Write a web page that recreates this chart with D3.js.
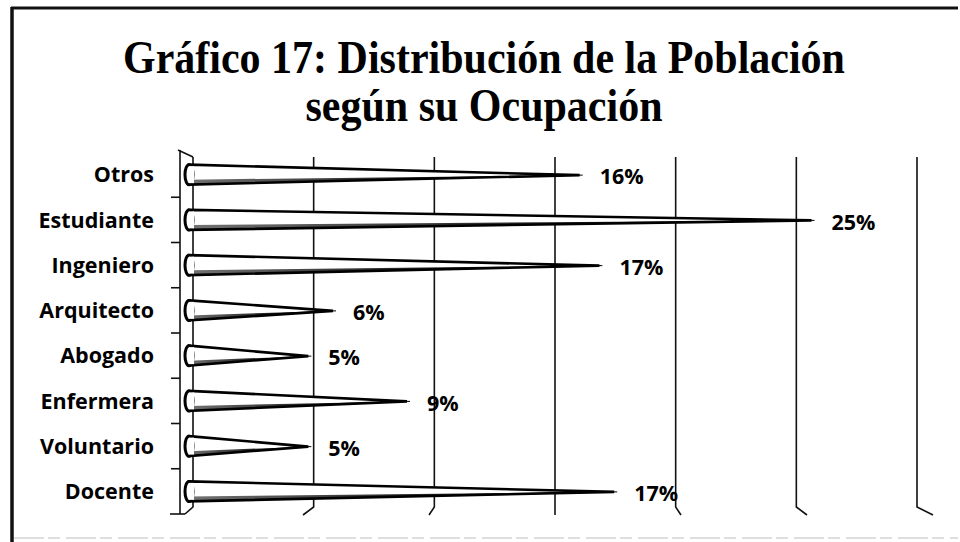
<!DOCTYPE html>
<html>
<head>
<meta charset="utf-8">
<script src="https://cdn.jsdelivr.net/npm/d3@7"></script>
<style>
  html, body { margin: 0; padding: 0; background: #fff; }
  svg { display: block; }
</style>
</head>
<body>
<svg id="chart" width="960" height="542"></svg>
<script>
// ---- data ----
const titleLines = ["Gráfico 17: Distribución de la Población", "según su Ocupación"];
const categories = ["Otros", "Estudiante", "Ingeniero", "Arquitecto", "Abogado", "Enfermera", "Voluntario", "Docente"];
const values = [16, 25.4, 16.8, 6, 5, 9, 5, 17.4];   // percent, read from the cone tips
const gridTicks = [0, 5, 10, 15, 20, 25, 30];

const svg = d3.select("#chart");

// ---- frame ----
svg.append("rect").attr("width", 960).attr("height", 542).attr("fill", "#fff");
svg.append("line").attr("x1", 11).attr("x2", 958).attr("y1", 8).attr("y2", 8)
  .attr("stroke", "#111").attr("stroke-width", 3);
svg.append("line").attr("x1", 12).attr("x2", 12).attr("y1", 7).attr("y2", 542)
  .attr("stroke", "#111").attr("stroke-width", 3.5);
svg.append("line").attr("x1", 14).attr("x2", 958).attr("y1", 538).attr("y2", 538)
  .attr("stroke", "#d4d4d4").attr("stroke-width", 1.5).attr("stroke-dasharray", "30,4,12,6");

// ---- title ----
svg.append("g").selectAll("text").data(titleLines).join("text")
  .attr("transform", (d, i) => `translate(484,${73 + i * 48}) scale(1,1.12)`)
  .attr("text-anchor", "middle")
  .attr("font-family", "'Liberation Serif', 'Times New Roman', serif")
  .attr("font-weight", "bold")
  .attr("font-size", 42)
  .attr("fill", "#000")
  .text(d => d);

// ---- scales (3D perspective: back wall, middle (cones) and front floor edge) ----
const xBack  = d3.scaleLinear().domain([0, 30]).range([193, 917]);
const xMid   = d3.scaleLinear().domain([0, 30]).range([185, 925]);
const xFront = d3.scaleLinear().domain([0, 30]).range([177, 933]);
const y = d3.scaleBand().domain(categories).range([152, 514]);

const backTop = 157, backBottom = 507, frontBottom = 515;

// ---- gridlines on the back wall with perspective feet ----
const grid = svg.append("g").attr("stroke", "#111").attr("stroke-width", 1.6).attr("fill", "none");
grid.selectAll("path.g").data(gridTicks.slice(1)).join("path")
  .attr("class", "g")
  .attr("d", d => `M${xBack(d)},${backTop}L${xBack(d)},${backBottom}L${xFront(d)},${frontBottom}`);

// back wall left edge
grid.append("path")
  .attr("d", `M${xBack(0)},${backTop}L${xBack(0)},${backBottom}L${xFront(0) + 8},${frontBottom - 1}`);

// front vertical axis
const axisX = 180;
grid.append("path")
  .attr("d", `M${axisX - 2},${y.range()[0] - 2}L${xBack(0)},${backTop}`);
grid.append("line")
  .attr("x1", axisX).attr("x2", axisX)
  .attr("y1", y.range()[0] - 2).attr("y2", y.range()[1]);
grid.append("line")
  .attr("x1", 170).attr("x2", xFront(0) + 8)
  .attr("y1", y.range()[1]).attr("y2", y.range()[1]);
// category separators (ticks)
grid.selectAll("line.t").data(categories.slice(1)).join("line")
  .attr("class", "t")
  .attr("x1", 171).attr("x2", axisX)
  .attr("y1", d => y(d)).attr("y2", d => y(d));

// ---- cones ----
const defs = svg.append("defs");
const grad = defs.append("linearGradient").attr("id", "shade")
  .attr("x1", "0%").attr("x2", "100%").attr("y1", "0%").attr("y2", "0%");
grad.append("stop").attr("offset", "0%").attr("stop-color", "#000").attr("stop-opacity", 0.55);
grad.append("stop").attr("offset", "50%").attr("stop-color", "#000").attr("stop-opacity", 0.85);
grad.append("stop").attr("offset", "100%").attr("stop-color", "#000").attr("stop-opacity", 1);

const coneH = 20;
const cones = svg.append("g").selectAll("g").data(categories).join("g");
cones.each(function (c, i) {
  const g = d3.select(this);
  const cy = y(c) + y.bandwidth() / 2;
  const x0 = xMid(0) + 4;
  const xt = xMid(values[i]);
  // cone body
  g.append("path")
    .attr("d", `M${x0},${cy - coneH / 2}L${xt},${cy + 0.5}L${x0},${cy + coneH / 2}Z`)
    .attr("fill", "#fff").attr("stroke", "#000").attr("stroke-width", 2.6)
    .attr("stroke-linejoin", "miter");
  // lower shading
  g.append("path")
    .attr("d", `M${x0},${cy + 5}L${xt},${cy + 0.5}L${x0},${cy + coneH / 2}Z`)
    .attr("fill", "url(#shade)");
  // base ellipse
  g.append("ellipse")
    .attr("cx", x0).attr("cy", cy).attr("rx", 4).attr("ry", coneH / 2)
    .attr("fill", "#fff").attr("stroke", "#000").attr("stroke-width", 3);
  g.append("rect")
    .attr("x", x0).attr("y", cy - coneH / 2 + 1.5).attr("width", 5).attr("height", coneH - 3)
    .attr("fill", "#fff");
  // thin tip line
  g.append("line")
    .attr("x1", xt - (xt - x0) * 0.12).attr("x2", xt + 3)
    .attr("y1", cy + 0.5).attr("y2", cy + 0.5)
    .attr("stroke", "#000").attr("stroke-width", 1);
});

// ---- category labels ----
svg.append("g").selectAll("text").data(categories).join("text")
  .attr("x", 154)
  .attr("y", d => y(d) + y.bandwidth() / 2)
  .attr("dy", "0.36em")
  .attr("text-anchor", "end")
  .attr("font-family", "'Open Sans', sans-serif")
  .attr("font-weight", "bold")
  .attr("font-size", 21.5)
  .attr("fill", "#000")
  .text(d => d);

// ---- value labels ----
svg.append("g").selectAll("text").data(categories).join("text")
  .attr("x", (d, i) => xMid(values[i]) + 20)
  .attr("y", d => y(d) + y.bandwidth() / 2 + 2)
  .attr("dy", "0.36em")
  .attr("font-family", "'Open Sans', sans-serif")
  .attr("font-weight", "bold")
  .attr("font-size", 21.5)
  .attr("fill", "#000")
  .text((d, i) => Math.round(values[i]) + "%");
</script>
</body>
</html>
